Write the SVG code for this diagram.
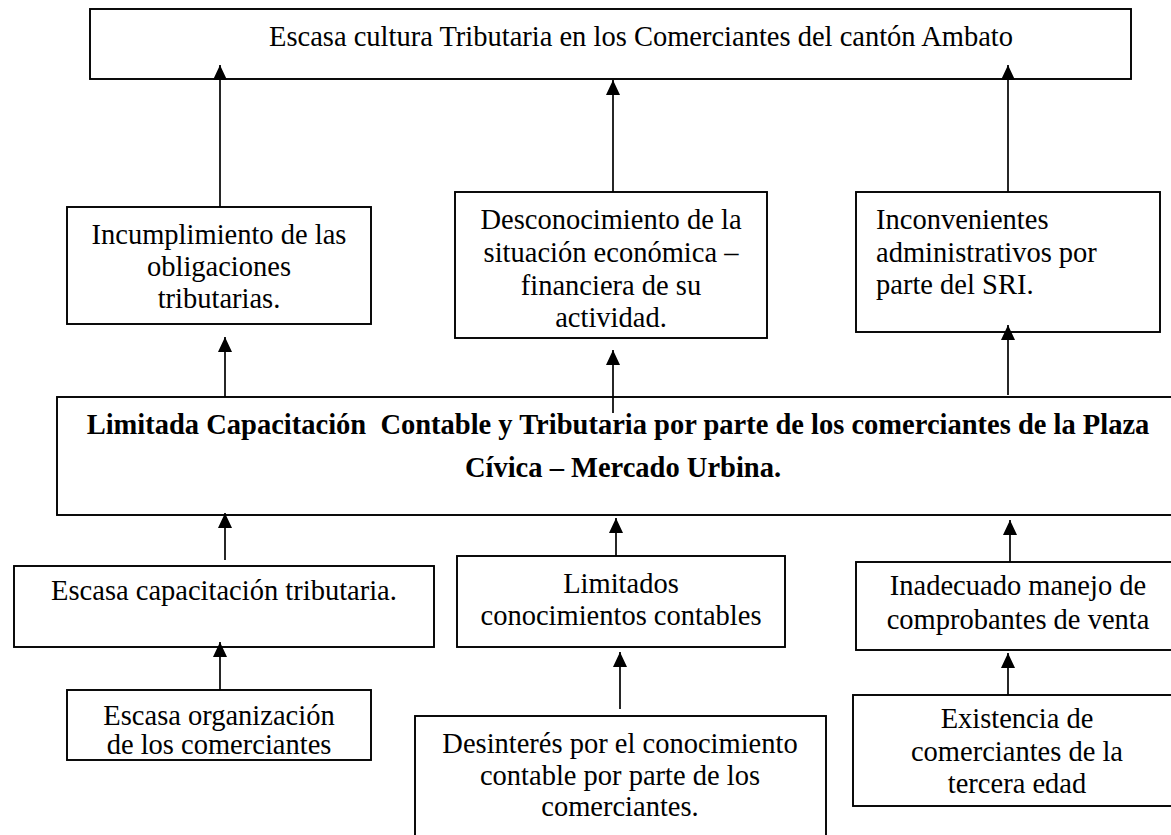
<svg xmlns="http://www.w3.org/2000/svg" width="1171" height="835" viewBox="0 0 1171 835">
<defs>
<style>
.box{fill:#fff;stroke:#000;stroke-width:1.9}
.t{font-family:"Liberation Serif","Times New Roman",serif;font-size:28.5px;fill:#000}
.c{text-anchor:middle}
.b{font-weight:bold}
.ln{stroke:#000;stroke-width:1.7;fill:none}
</style>
<marker id="ah" viewBox="0 0 15 14" markerWidth="15" markerHeight="14" refX="15" refY="7" orient="auto" markerUnits="userSpaceOnUse">
<path d="M0,0 L15,7 L0,14 z" fill="#000"/>
</marker>
</defs>
<rect width="1171" height="835" fill="#fff"/>

<g id="n-top">
<rect class="box" x="90" y="9" width="1041" height="70"/>
<text class="t c" x="641" y="46">Escasa cultura Tributaria en los Comerciantes del cantón Ambato</text>
</g>

<g id="n-incumplimiento">
<rect class="box" x="67" y="207" width="304" height="117"/>
<text class="t c" x="219" y="244">Incumplimiento de las</text>
<text class="t c" x="219" y="276">obligaciones</text>
<text class="t c" x="219" y="308">tributarias.</text>
</g>

<g id="n-desconocimiento">
<rect class="box" x="455" y="192" width="312" height="146"/>
<text class="t c" x="611" y="229">Desconocimiento de la</text>
<text class="t c" x="611" y="262">situación económica –</text>
<text class="t c" x="611" y="295">financiera de su</text>
<text class="t c" x="611" y="327">actividad.</text>
</g>

<g id="n-inconvenientes">
<rect class="box" x="856" y="192" width="304" height="140"/>
<text class="t" x="876" y="229">Inconvenientes</text>
<text class="t" x="876" y="262">administrativos por</text>
<text class="t" x="876" y="294">parte del SRI.</text>
</g>

<g id="n-limitada">
<rect class="box" x="57" y="397" width="1130" height="118"/>
<text class="t c b" x="618" y="434">Limitada Capacitación&#160; Contable y Tributaria por parte de los comerciantes de la Plaza</text>
<text class="t c b" x="623" y="477">Cívica – Mercado Urbina.</text>
</g>

<g id="n-escasa-capacitacion">
<rect class="box" x="14" y="566" width="420" height="81"/>
<text class="t c" x="224" y="600">Escasa capacitación tributaria.</text>
</g>

<g id="n-limitados">
<rect class="box" x="457" y="556" width="328" height="91"/>
<text class="t c" x="621" y="593">Limitados</text>
<text class="t c" x="621" y="625">conocimientos contables</text>
</g>

<g id="n-inadecuado">
<rect class="box" x="856" y="562" width="330" height="88"/>
<text class="t c" x="1018" y="595">Inadecuado manejo de</text>
<text class="t c" x="1018" y="629">comprobantes de venta</text>
</g>

<g id="n-escasa-organizacion">
<rect class="box" x="67" y="690" width="304" height="70"/>
<text class="t c" x="219" y="725">Escasa organización</text>
<text class="t c" x="219" y="754">de los comerciantes</text>
</g>

<g id="n-desinteres">
<rect class="box" x="415" y="716" width="411" height="130"/>
<text class="t c" x="620" y="753">Desinterés por el conocimiento</text>
<text class="t c" x="620" y="785">contable por parte de los</text>
<text class="t c" x="620" y="816">comerciantes.</text>
</g>

<g id="n-existencia">
<rect class="box" x="853" y="695" width="330" height="111"/>
<text class="t c" x="1017" y="728">Existencia de</text>
<text class="t c" x="1017" y="761">comerciantes de la</text>
<text class="t c" x="1017" y="793">tercera edad</text>
</g>

<g id="connectors">
<line class="ln" x1="220" y1="207" x2="220" y2="65" marker-end="url(#ah)"/>
<line class="ln" x1="613" y1="192" x2="613" y2="80" marker-end="url(#ah)"/>
<line class="ln" x1="1008" y1="192" x2="1008" y2="65" marker-end="url(#ah)"/>
<line class="ln" x1="225" y1="397" x2="225" y2="337" marker-end="url(#ah)"/>
<line class="ln" x1="613" y1="413" x2="613" y2="350" marker-end="url(#ah)"/>
<line class="ln" x1="1008" y1="395" x2="1008" y2="325" marker-end="url(#ah)"/>
<line class="ln" x1="225" y1="560" x2="225" y2="513" marker-end="url(#ah)"/>
<line class="ln" x1="616" y1="556" x2="616" y2="518" marker-end="url(#ah)"/>
<line class="ln" x1="1010" y1="562" x2="1010" y2="520" marker-end="url(#ah)"/>
<line class="ln" x1="220" y1="690" x2="220" y2="642" marker-end="url(#ah)"/>
<line class="ln" x1="620" y1="709" x2="620" y2="652" marker-end="url(#ah)"/>
<line class="ln" x1="1008" y1="695" x2="1008" y2="653" marker-end="url(#ah)"/>
</g>
</svg>
